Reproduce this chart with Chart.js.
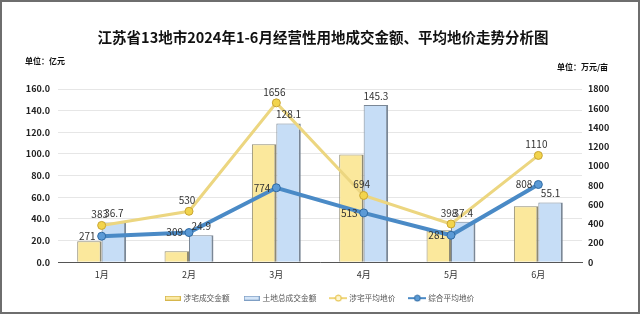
<!DOCTYPE html>
<html>
<head>
<meta charset="utf-8">
<script src="https://cdn.jsdelivr.net/npm/chart.js@4.4.1/dist/chart.umd.min.js"></script>
<style>
  html, body { margin: 0; padding: 0; background: #fff; }
  #wrap { position: relative; width: 640px; height: 317px; }
</style>
</head>
<body>
<div id="wrap"><canvas id="landChart" width="640" height="317"></canvas></div>
<script>
const months = ['1月', '2月', '3月', '4月', '5月', '6月'];
const residentialAmount = [19.5, 10.2, 109.0, 99.5, 29.6, 51.8];   // 涉宅成交金额 (亿元)
const totalAmount = [36.7, 24.9, 128.1, 145.3, 37.4, 55.1];         // 土地总成交金额 (亿元)
const residentialPrice = [383, 530, 1656, 694, 398, 1110];          // 涉宅平均地价 (万元/亩)
const overallPrice = [271, 309, 774, 513, 281, 808];                // 综合平均地价 (万元/亩)

const FONT = '"Noto Sans CJK SC", "Noto Sans", sans-serif';

// legend icons
function barIcon(fill, stroke) {
  const c = document.createElement('canvas');
  c.width = 16; c.height = 5;
  const x = c.getContext('2d');
  x.fillStyle = fill; x.fillRect(0, 0, 16, 5);
  x.strokeStyle = stroke; x.lineWidth = 1; x.strokeRect(0.5, 0.5, 15, 4);
  return c;
}
function lineIcon(color, pointFill, pointStroke, w) {
  const c = document.createElement('canvas');
  c.width = 18; c.height = 8;
  const x = c.getContext('2d');
  x.strokeStyle = color; x.lineWidth = w;
  x.beginPath(); x.moveTo(0, 4); x.lineTo(18, 4); x.stroke();
  x.beginPath(); x.arc(9, 4, 3, 0, Math.PI * 2);
  x.fillStyle = pointFill; x.fill();
  x.strokeStyle = pointStroke; x.lineWidth = 1; x.stroke();
  return c;
}
const legendIcons = [
  barIcon('#fbeaa6', '#d6b64c'),
  barIcon('#d4e5f8', '#7f9fc4'),
  lineIcon('#f0d67a', '#fff6d0', '#e0b830', 2),
  lineIcon('#4a8ac6', '#5b9bd5', '#2f6aa3', 2)
];

// title, units, frame
const decorPlugin = {
  id: 'decor',
  beforeDraw(chart) {
    const ctx = chart.ctx;
    ctx.save();
    ctx.fillStyle = '#fff';
    ctx.fillRect(0, 0, chart.width, chart.height);
    ctx.strokeStyle = '#6e6e6e';
    ctx.lineWidth = 2;
    ctx.strokeRect(1, 1, 638, 312);
    ctx.restore();
  },
  afterDraw(chart) {
    const ctx = chart.ctx;
    ctx.save();
    ctx.fillStyle = '#111';
    ctx.textBaseline = 'middle';
    ctx.textAlign = 'center';
    ctx.font = 'bold 14.5px ' + FONT;
    ctx.fillText('江苏省13地市2024年1-6月经营性用地成交金额、平均地价走势分析图', 323, 37);
    ctx.font = 'bold 8px ' + FONT;
    ctx.textAlign = 'left';
    ctx.fillText('单位：亿元', 25, 61);
    ctx.fillText('单位：万元/亩', 557, 67);
    ctx.restore();
  }
};

// value labels
const labelPlugin = {
  id: 'valueLabels',
  afterDatasetsDraw(chart) {
    const ctx = chart.ctx;
    ctx.save();
    ctx.font = '10px ' + FONT;
    ctx.fillStyle = '#333';
    chart.getDatasetMeta(1).data.forEach((el, i) => {
      ctx.textAlign = 'center'; ctx.textBaseline = 'bottom';
      ctx.fillText(totalAmount[i].toFixed(1), el.x, el.y - 4);
    });
    chart.getDatasetMeta(2).data.forEach((el, i) => {
      ctx.textAlign = 'center'; ctx.textBaseline = 'bottom';
      ctx.fillText(residentialPrice[i], el.x - 2, el.y - 6);
    });
    chart.getDatasetMeta(3).data.forEach((el, i) => {
      ctx.textAlign = 'right'; ctx.textBaseline = 'middle';
      ctx.fillText(overallPrice[i], el.x - 6, el.y);
    });
    ctx.restore();
  }
};

const ctx = document.getElementById('landChart').getContext('2d');
const landChart = new Chart(ctx, {
  type: 'bar',
  data: {
    labels: months,
    datasets: [{
      label: '涉宅成交金额',
      data: residentialAmount,
      yAxisID: 'y',
      backgroundColor: '#fbe89c',
      borderColor: '#8f8a72',
      borderWidth: { top: 1, left: 1, right: 2, bottom: 0 },
      categoryPercentage: 0.56,
      barPercentage: 1,
      order: 2
    }, {
      label: '土地总成交金额',
      data: totalAmount,
      yAxisID: 'y',
      backgroundColor: '#c6ddf6',
      borderColor: '#7a8796',
      borderWidth: { top: 1, left: 1, right: 2, bottom: 0 },
      categoryPercentage: 0.56,
      barPercentage: 1,
      order: 2
    }, {
      type: 'line',
      label: '涉宅平均地价',
      data: residentialPrice,
      yAxisID: 'y1',
      borderColor: '#ecd680',
      borderWidth: 3,
      pointRadius: 4,
      pointBackgroundColor: '#f2d44c',
      pointBorderColor: '#c9a532',
      pointBorderWidth: 1,
      tension: 0,
      order: 1
    }, {
      type: 'line',
      label: '综合平均地价',
      data: overallPrice,
      yAxisID: 'y1',
      borderColor: '#4a8ac6',
      borderWidth: 4,
      pointRadius: 4,
      pointBackgroundColor: '#5b9ad6',
      pointBorderColor: '#2f6aa3',
      pointBorderWidth: 1,
      tension: 0,
      order: 0
    }]
  },
  options: {
    responsive: false,
    animation: false,
    layout: {
      padding: { top: 89, left: 0, right: 0, bottom: 5 }
    },
    scales: {
      x: {
        grid: { display: false, drawTicks: false },
        border: { display: true, color: '#555', width: 1 },
        ticks: { color: '#333', font: { size: 9, family: FONT }, padding: 7 },
        afterFit(scale) { scale.height = 17; }
      },
      y: {
        position: 'left',
        min: 0,
        max: 160,
        grid: { color: '#e6e6e6', drawTicks: false },
        border: { display: false },
        ticks: {
          stepSize: 20,
          color: '#222',
          padding: 8,
          font: { size: 9, weight: 'bold', family: FONT },
          callback: v => v.toFixed(1)
        },
        afterFit(scale) { scale.width = 58; }
      },
      y1: {
        position: 'right',
        min: 0,
        max: 1800,
        grid: { display: false, drawTicks: false },
        border: { display: false },
        ticks: {
          stepSize: 200,
          color: '#222',
          padding: 6,
          font: { size: 9, weight: 'bold', family: FONT },
          callback: v => String(v)
        },
        afterFit(scale) { scale.width = 58; }
      }
    },
    plugins: {
      title: { display: false },
      tooltip: { enabled: false },
      legend: {
        display: true,
        position: 'bottom',
        labels: {
          usePointStyle: true,
          pointStyleWidth: 14,
          padding: 15,
          color: '#555',
          font: { size: 7.7, family: FONT },
          generateLabels(chart) {
            return chart.data.datasets.map((ds, i) => ({
              text: ds.label,
              pointStyle: legendIcons[i],
              fillStyle: 'transparent',
              strokeStyle: 'transparent',
              lineWidth: 0,
              fontColor: '#555',
              hidden: false,
              datasetIndex: i
            }));
          }
        }
      }
    }
  },
  plugins: [decorPlugin, labelPlugin]
});
</script>
</body>
</html>
